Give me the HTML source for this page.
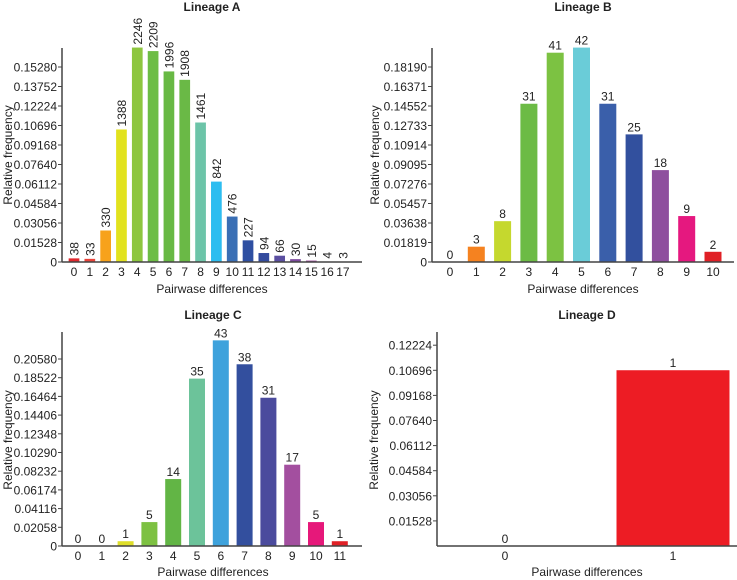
<!DOCTYPE html>
<html><head><meta charset="utf-8">
<style>
html,body{margin:0;padding:0;background:#fff;}
svg{display:block;font-family:"Liberation Sans",Arial,sans-serif;}
</style></head>
<body>
<svg id="chart" width="737" height="580" viewBox="0 0 737 580" xmlns="http://www.w3.org/2000/svg"></svg>
<script>
// Lineage A
const catsA = [0,1,2,3,4,5,6,7,8,9,10,11,12,13,14,15,16,17];
const countsA = [38,33,330,1388,2246,2209,1996,1908,1461,842,476,227,94,66,30,15,4,3];
const ticksA = ["0","0.01528","0.03056","0.04584","0.06112","0.07640","0.09168","0.10696","0.12224","0.13752","0.15280"];
// Lineage B
const catsB = [0,1,2,3,4,5,6,7,8,9,10];
const countsB = [0,3,8,31,41,42,31,25,18,9,2];
const ticksB = ["0","0.01819","0.03638","0.05457","0.07276","0.09095","0.10914","0.12733","0.14552","0.16371","0.18190"];
// Lineage C
const catsC = [0,1,2,3,4,5,6,7,8,9,10,11];
const countsC = [0,0,1,5,14,35,43,38,31,17,5,1];
const ticksC = ["0","0.02058","0.04116","0.06174","0.08232","0.10290","0.12348","0.14406","0.16464","0.18522","0.20580"];
// Lineage D
const catsD = [0,1];
const countsD = [0,1];
const freqD = [0,0.107];
const ticksD = ["0.01528","0.03056","0.04584","0.06112","0.07640","0.09168","0.10696","0.12224"];
const tickValsD = [0.01528,0.03056,0.04584,0.06112,0.07640,0.09168,0.10696,0.12224];

const colorsA = ["#e0282e","#e8443a","#f7a21b","#e2e21e","#8dc63f","#6dbd45","#68b944","#6ab946","#6cc4a8","#2dbdf0","#3a6fb5","#2e4fa2","#334b9e","#5a4ea0","#7d4b9e","#9b4a9c","#9b4a9c","#9b4a9c"];
const colorsB = ["#e02026","#f58220","#c5d82e","#6cbb45","#7cc242","#6accd8","#3a5faa","#32509e","#8e4f9e","#e5187f","#e02026"];
const colorsC = ["#e02026","#e02026","#dede2a","#7dc142","#62b545","#6cc39a","#3ea2dc","#334f9e","#4b4b9d","#a34f9f","#e6187a","#e02026"];
const colorsD = ["#ed1c24","#ed1c24"];

const NS = "http://www.w3.org/2000/svg";
const svg = document.getElementById('chart');
function mk(tag, attrs, parent){
  const e = document.createElementNS(NS, tag);
  for (const k in attrs) e.setAttribute(k, attrs[k]);
  (parent||svg).appendChild(e);
  return e;
}
function txt(str, attrs, parent){ const t = mk('text', attrs, parent); t.textContent = str; return t; }
const FS = '12';

function drawPanel(p){
  const g = mk('g', {});
  
  
  const y = v => p.y0 - v / p.tickStep * p.tickPx;
  const x = i => p.x0c + i * p.step;
  const t = txt(p.title, {x:p.titleX, y:p.titleY, 'text-anchor':'middle', 'font-size':'12', 'font-weight':'bold', fill:'#222'}, g);
  
  
  p.freqs.forEach((f, i) => {
    const h = p.y0 - y(f);
    if (h > 0) {
      const r = mk('rect', {x: x(i) - p.bw/2, y: y(f), width: p.bw, height: h, fill: p.colors[i]}, g);
      
      
    }
    let lab;
    if (p.rotate) {
      const lx = x(i) + 4.5, ly = y(f) - 3;
      lab = txt(String(p.counts[i]), {x: lx, y: ly, 'font-size':FS, fill:'#222', transform:'rotate(-90 '+lx+' '+ly+')'}, g);
    } else {
      lab = txt(String(p.counts[i]), {x: x(i), y: y(f) - 3, 'text-anchor':'middle', 'font-size':FS, fill:'#222'}, g);
    }
    
    
    const xl = txt(String(p.cats[i]), {x: x(i), y: p.y0 + 14, 'text-anchor':'middle', 'font-size':FS, fill:'#222'}, g);
    
    
  });
  p.ticks.forEach((lbl, i) => {
    const v = p.tickVals ? p.tickVals[i] : i * p.tickStep;
    const yy = y(v);
    mk('line', {x1: p.ax - 4, x2: p.ax, y1: yy, y2: yy, stroke:'#444', 'stroke-width':1}, g);
    const tl = txt(lbl, {x: p.ax - 5, y: yy + 4.5, 'text-anchor':'end', 'font-size':FS, fill:'#222'}, g);
    
    
  });
  const ya = mk('line', {x1:p.ax, x2:p.ax, y1:p.yTop, y2:p.y0, stroke:'#444', 'stroke-width':1.5}, g);
  
  
  const xa = mk('line', {x1:p.ax, x2:p.xEnd, y1:p.y0, y2:p.y0, stroke:'#444', 'stroke-width':1.5}, g);
  
  
  const xt = txt('Pairwase differences', {x:p.titleX, y:p.xTitleY, 'text-anchor':'middle', 'font-size':'12', fill:'#222'}, g);
  
  
  const ytx = p.yTitleX, yty = p.yTitleY;
  const yt = txt('Relative frequency', {x:ytx, y:yty, 'text-anchor':'middle', 'font-size':'12', fill:'#222', transform:'rotate(-90 '+ytx+' '+yty+')'}, g);
  
  
}
const sum = a => a.reduce((s, v) => s + v, 0);

drawPanel({name:'lineage-a-chart', title:'Lineage A', cats:catsA, counts:countsA, freqs:countsA.map(c => c/sum(countsA)),
  colors:colorsA, ticks:ticksA, tickStep:0.01528, tickPx:19.5, y0:262, yTop:48, ax:62, xEnd:362,
  x0c:74, step:15.82, bw:10.7, rotate:true, titleX:212, titleY:11, xTitleY:293, yTitleX:12, yTitleY:155});
drawPanel({name:'lineage-b-chart', title:'Lineage B', cats:catsB, counts:countsB, freqs:countsB.map(c => c/sum(countsB)),
  colors:colorsB, ticks:ticksB, tickStep:0.01819, tickPx:19.5, y0:262, yTop:48, ax:432, xEnd:734,
  x0c:450, step:26.3, bw:17, rotate:false, titleX:583, titleY:11, xTitleY:293, yTitleX:379, yTitleY:155});
drawPanel({name:'lineage-c-chart', title:'Lineage C', cats:catsC, counts:countsC, freqs:countsC.map(c => c/sum(countsC)),
  colors:colorsC, ticks:ticksC, tickStep:0.02058, tickPx:18.7, y0:546, yTop:332, ax:62, xEnd:362,
  x0c:78, step:23.8, bw:16, rotate:false, titleX:213, titleY:319, xTitleY:576, yTitleX:12, yTitleY:440});
drawPanel({name:'lineage-d-chart', title:'Lineage D', cats:catsD, counts:countsD, freqs:freqD,
  colors:colorsD, ticks:ticksD, tickVals:tickValsD, tickStep:0.01528, tickPx:25.1, y0:546, yTop:332, ax:437, xEnd:737,
  x0c:505, step:168, bw:113, rotate:false, titleX:587, titleY:319, xTitleY:576, yTitleX:378, yTitleY:440});
</script>
</body></html>
